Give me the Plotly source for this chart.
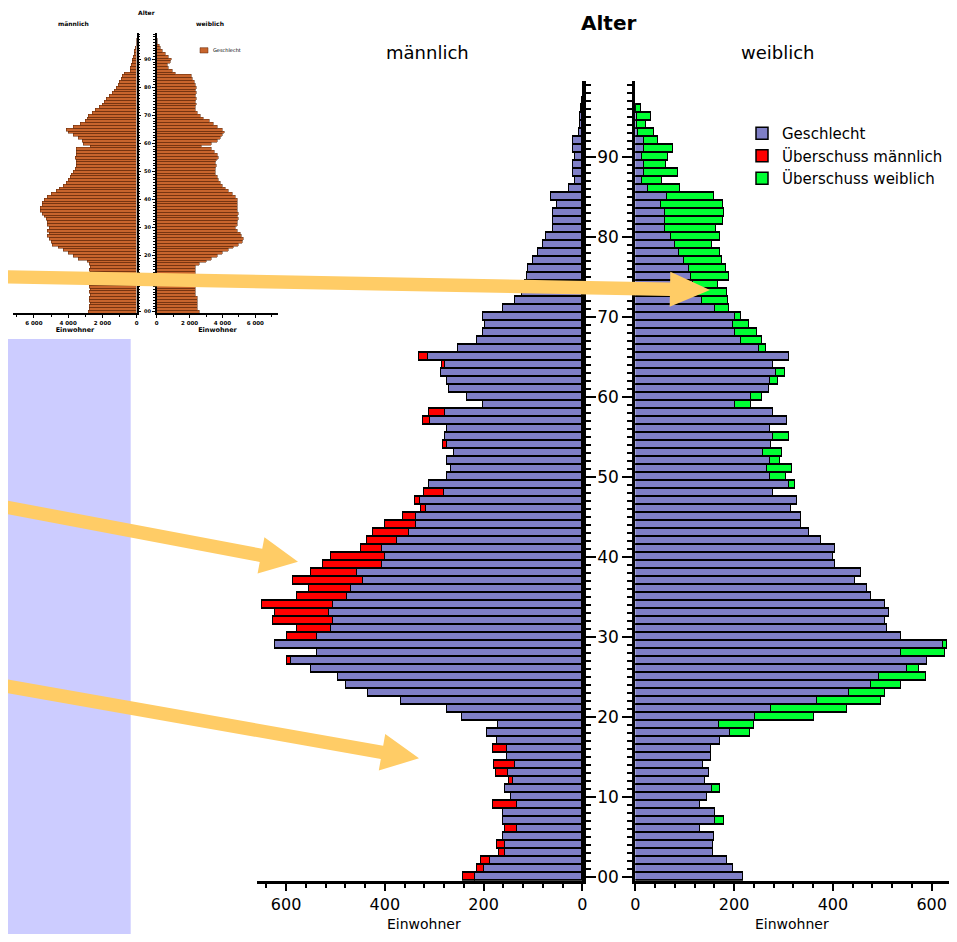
import math
import plotly.graph_objects as go

# The page body keeps the browser's default 8px margin, so the figure is made
# 16px smaller and every reference-pixel position is shifted by that margin.
PAGE_W, PAGE_H = 957, 942
OX, OY = 8, 8
FW, FH = PAGE_W - 2 * OX, PAGE_H - 2 * OY

# ---------------- data ----------------
alter = list(range(98))

geschlecht = [218, 199, 186, 157, 157, 160, 132, 161, 161, 132,
              145, 156, 141, 150, 137, 153, 153, 173, 193, 170,
              243, 275, 368, 434, 478, 494, 550, 591, 538, 623,
              538, 510, 506, 514, 506, 477, 469, 445, 457, 405,
              400, 405, 376, 352, 336, 336, 316, 328, 280, 311,
              274, 267, 274, 259, 275, 279, 274, 308, 279, 202,
              234, 271, 274, 286, 279, 312, 251, 214, 202, 198,
              202, 161, 136, 122, 117, 113, 109, 100, 89, 80,
              73, 60, 60, 60, 52, 64, 26, 15, 19, 19,
              15, 19, 19, 6, 5, 4, 2, 1]

ueberschuss_maennlich = [24, 14, 20, 12, 15, 0, 24, 0, 0, 49,
                         0, 0, 8, 24, 41, 0, 28, 0, 0, 0,
                         0, 0, 0, 0, 0, 0, 0, 8, 0, 0,
                         61, 67, 120, 109, 143, 100, 85, 141, 92, 120,
                         110, 44, 61, 72, 64, 27, 11, 10, 40, 0,
                         0, 0, 0, 0, 7, 0, 0, 15, 31, 0,
                         0, 0, 0, 0, 6, 19, 0, 0, 0, 0,
                         0, 0, 0, 0, 0, 0, 0, 0, 0, 0,
                         0, 0, 0, 0, 0, 0, 0, 0, 0, 0,
                         0, 0, 0, 0, 0, 0, 0, 0]

ueberschuss_weiblich = [0, 0, 0, 0, 0, 0, 0, 20, 0, 0,
                        0, 17, 0, 0, 0, 0, 0, 0, 40, 71,
                        120, 155, 129, 72, 60, 96, 25, 0, 90, 8,
                        0, 0, 0, 0, 0, 0, 0, 0, 0, 0,
                        0, 0, 0, 0, 0, 0, 0, 0, 0, 12,
                        32, 51, 20, 39, 0, 33, 0, 0, 0, 32,
                        23, 0, 16, 17, 0, 0, 15, 43, 44, 32,
                        12, 29, 52, 64, 51, 77, 75, 76, 83, 76,
                        100, 104, 118, 121, 126, 95, 65, 40, 68, 44,
                        51, 58, 27, 32, 17, 28, 10, 0]

alter_ticks = [0, 10, 20, 30, 40, 50, 60, 70, 80, 90]
alter_labels = ["00", "10", "20", "30", "40", "50", "60", "70", "80", "90"]
einw_ticks = [0, 200, 400, 600]
einw_labels = ["0", "200", "400", "600"]

# small thumbnail pyramid (top left)
thumb_maennlich = [2800, 2750, 2750, 2700, 2750, 2750, 2700, 2750, 2700, 2750,
                   2750, 2700, 2750, 2700, 2700, 2750, 2700, 2750, 2900, 3400,
                   3700, 4000, 4300, 4600, 4900, 5000, 5100, 5200, 5100, 5200,
                   5100, 5200, 5200, 5300, 5400, 5500, 5640, 5600, 5500, 5500,
                   5400, 5200, 5000, 4700, 4500, 4300, 4100, 4000, 3900, 3800,
                   3700, 3600, 3550, 3500, 3550, 3600, 3500, 3550, 3500, 2700,
                   3100, 3200, 3400, 3700, 4000, 4100, 3700, 3300, 3000, 2900,
                   2850, 2600, 2400, 2200, 2000, 1900, 1800, 1600, 1400, 1300,
                   1200, 1100, 1000, 900, 850, 750, 400, 350, 300, 250,
                   250, 200, 150, 120, 80, 40, 20, 10]
thumb_weiblich = [2600, 2480, 2480, 2480, 2480, 2480, 2400, 2400, 2400, 2400,
                  2400, 2400, 2400, 2400, 2400, 2400, 2400, 2600, 3050, 3350,
                  3700, 4000, 4400, 4700, 5000, 5250, 5300, 5200, 5100, 4900,
                  4800, 4900, 4950, 5000, 4950, 5000, 4950, 4900, 4950, 4900,
                  4900, 4800, 4600, 4400, 4200, 4000, 3900, 3800, 3700, 3600,
                  3600, 3600, 3650, 3600, 3650, 3800, 3700, 3550, 3350, 2750,
                  3350, 3700, 3900, 4000, 4150, 4000, 3700, 3450, 3250, 2850,
                  2700, 2500, 2400, 2400, 2450, 2400, 2450, 2400, 2450, 2400,
                  2450, 2400, 2300, 2200, 2100, 1150, 950, 750, 650, 850,
                  900, 750, 520, 380, 250, 170, 80, 40]
thumb_ticks = [0, 2000, 4000, 6000]
thumb_labels = ["0", "2 000", "4 000", "6 000"]

# ---------------- styles ----------------
BLUE = "#7F7FC6"
RED = "#FF0000"
GREEN = "#00FF33"
THUMB = "#C8652D"
THUMB_LINE = "#5C2608"
ARROW = "#FFCC66"
LAVENDER = "#CCCCFF"
FONT = "DejaVu Sans"


def px(x):
    return (x - OX) / FW


def py(y):
    return 1 - (y - OY) / FH


def nz(vals):
    return [v if v else None for v in vals]


fig = go.Figure()
edge = dict(color="black", width=1.5)
fig.add_trace(go.Bar(y=alter, x=geschlecht, orientation="h", xaxis="x", yaxis="y",
                     name="Geschlecht", marker=dict(color=BLUE, line=edge), hoverinfo="skip"))
fig.add_trace(go.Bar(y=alter, x=nz(ueberschuss_maennlich), orientation="h", xaxis="x", yaxis="y",
                     name="Überschuss männlich", marker=dict(color=RED, line=edge), hoverinfo="skip"))
fig.add_trace(go.Bar(y=alter, x=geschlecht, orientation="h", xaxis="x2", yaxis="y2",
                     name="Geschlecht", showlegend=False, marker=dict(color=BLUE, line=edge),
                     hoverinfo="skip"))
fig.add_trace(go.Bar(y=alter, x=nz(ueberschuss_weiblich), orientation="h", xaxis="x2", yaxis="y2",
                     name="Überschuss weiblich", marker=dict(color=GREEN, line=edge), hoverinfo="skip"))

tedge = dict(color=THUMB_LINE, width=0.5)
fig.add_trace(go.Bar(y=alter, x=thumb_maennlich, orientation="h", xaxis="x3", yaxis="y3",
                     showlegend=False, marker=dict(color=THUMB, line=tedge), hoverinfo="skip"))
fig.add_trace(go.Bar(y=alter, x=thumb_weiblich, orientation="h", xaxis="x4", yaxis="y4",
                     showlegend=False, marker=dict(color=THUMB, line=tedge), hoverinfo="skip"))

main_y_domain = [py(880.7), py(80.7)]
thumb_y_domain = [py(313.3), py(33.3)]

# female axis: 0 at 635.3 px, 0.494 px per person; domain ends at figure edge
fem_right = OX + FW
fem_max = (fem_right - 635.3) / 0.494

xcommon = dict(showgrid=False, zeroline=False, showline=True, linecolor="black", linewidth=3,
               automargin=False,
               ticks="outside", ticklen=7, tickwidth=2, tickcolor="black",
               tickfont=dict(size=16, family=FONT),
               minor=dict(dtick=40, tick0=0, ticks="outside", ticklen=4, tickwidth=2, tickcolor="black"),
               fixedrange=True)
ycommon = dict(showgrid=False, zeroline=False, showline=True, linecolor="black",
               automargin=False,
               range=[-0.5, 99.5], domain=main_y_domain,
               ticks="outside", ticklen=10, tickwidth=2, tickcolor="black",
               tickvals=alter_ticks, ticktext=alter_labels,
               minor=dict(dtick=1, tick0=0, ticks="outside", ticklen=5, tickwidth=1.5, tickcolor="black"),
               fixedrange=True)

fig.update_layout(
    xaxis=dict(xcommon, domain=[px(257), px(582.3)], range=[659, 0], anchor="y",
               tickvals=einw_ticks, ticktext=einw_labels),
    xaxis2=dict(xcommon, domain=[px(635.3), 1.0], range=[0, fem_max], anchor="y2",
                tickvals=einw_ticks, ticktext=einw_labels),
    yaxis=dict(ycommon, anchor="x", side="right", showticklabels=False, linewidth=4),
    yaxis2=dict(ycommon, anchor="x2", side="left", linewidth=3,
                tickfont=dict(size=17, family=FONT)),
)

tx = dict(showgrid=False, zeroline=False, showline=True, linecolor="black", linewidth=1.5,
          automargin=False,
          ticks="outside", ticklen=3, tickwidth=1, tickcolor="black",
          tickvals=thumb_ticks, ticktext=thumb_labels,
          tickfont=dict(size=5.5, family=FONT, weight="bold"),
          minor=dict(dtick=1000, tick0=0, ticks="outside", ticklen=2, tickwidth=0.8, tickcolor="black"),
          title=dict(text="Einwohner", font=dict(size=6.5, family=FONT, weight="bold"), standoff=1),
          fixedrange=True)
ty = dict(showgrid=False, zeroline=False, showline=True, linecolor="black", linewidth=1.5,
          automargin=False,
          range=[-0.57, 99.3], domain=thumb_y_domain,
          ticks="outside", ticklen=3, tickwidth=1, tickcolor="black",
          tickvals=alter_ticks, ticktext=alter_labels,
          tickfont=dict(size=5, family=FONT, weight="bold"),
          minor=dict(dtick=1, tick0=0, ticks="outside", ticklen=1.5, tickwidth=0.5, tickcolor="black"),
          fixedrange=True)

fig.update_layout(
    xaxis3=dict(tx, domain=[px(13.3), px(136.7)], range=[7200, 0], anchor="y3"),
    xaxis4=dict(tx, domain=[px(156.7), px(278.3)], range=[0, 7400], anchor="y4"),
    yaxis3=dict(ty, anchor="x3", side="right", showticklabels=False),
    yaxis4=dict(ty, anchor="x4", side="left"),
)

annotations = [
    dict(text="<b>Alter</b>", x=px(608), y=py(23), font=dict(size=20)),
    dict(text="männlich", x=px(427), y=py(52), font=dict(size=18)),
    dict(text="weiblich", x=px(778), y=py(52), font=dict(size=18)),
    dict(text="Einwohner", x=px(424), y=py(933.5), yanchor="bottom", font=dict(size=14)),
    dict(text="Einwohner", x=px(792), y=py(933.5), yanchor="bottom", font=dict(size=14)),
    dict(text="<b>Alter</b>", x=px(146), y=py(12), font=dict(size=6)),
    dict(text="<b>männlich</b>", x=px(73), y=py(23), font=dict(size=6)),
    dict(text="<b>weiblich</b>", x=px(210), y=py(23), font=dict(size=6)),
    dict(text="Geschlecht", x=px(211), y=py(50.5), xanchor="left", font=dict(size=5)),
]
for a in annotations:
    a.update(xref="paper", yref="paper", showarrow=False)
    a.setdefault("xanchor", "center")
    a.setdefault("yanchor", "middle")
    a["font"].update(family=FONT, color="black")


def arrow_path(start, base, tip, w, hw):
    (x0, y0), (xb, yb), (xt, yt) = start, base, tip
    dx, dy = xb - x0, yb - y0
    L = math.hypot(dx, dy)
    nx, ny = -dy / L, dx / L
    pts = [(x0 + nx * w, y0 + ny * w), (xb + nx * w, yb + ny * w), (xb + nx * hw, yb + ny * hw),
           (xt, yt), (xb - nx * hw, yb - ny * hw), (xb - nx * w, yb - ny * w),
           (x0 - nx * w, y0 - ny * w)]
    return "M " + " L ".join(f"{px(x):.5f},{py(y):.5f}" for x, y in pts) + " Z"


arrows = [
    ((-10, 276.5), (670, 289.2), (710, 290), 6.7, 17.5),
    ((-10, 504.1), (261, 555.3), (298, 561.7), 6.7, 18.4),
    ((-10, 683.2), (382, 752.3), (419, 758.3), 6.7, 18.6),
]

shapes = [
    dict(type="rect", xref="paper", yref="paper", x0=px(0), x1=px(130.7), y0=py(PAGE_H), y1=py(339),
         fillcolor=LAVENDER, line=dict(width=0), layer="below"),
    dict(type="rect", xref="paper", yref="paper", x0=px(200), x1=px(208), y0=py(53), y1=py(47.7),
         fillcolor=THUMB, line=dict(width=0.5, color=THUMB_LINE), layer="above"),
]
for s, b, t, w, hw in arrows:
    shapes.append(dict(type="path", xref="paper", yref="paper", path=arrow_path(s, b, t, w, hw),
                       fillcolor=ARROW, line=dict(width=0), layer="above"))

fig.update_layout(
    width=FW, height=FH, autosize=False,
    margin=dict(l=0, r=0, t=0, b=0, autoexpand=False),
    paper_bgcolor="white", plot_bgcolor="rgba(0,0,0,0)",
    barmode="stack", bargap=0,
    font=dict(family=FONT, color="black"),
    showlegend=True,
    legend=dict(x=px(742), y=py(117), xanchor="left", yanchor="top",
                traceorder="normal", bgcolor="rgba(0,0,0,0)",
                font=dict(size=15, family=FONT, color="black")),
    annotations=annotations,
    shapes=shapes,
)

fig.write_html("out.html", config={"displayModeBar": False})
